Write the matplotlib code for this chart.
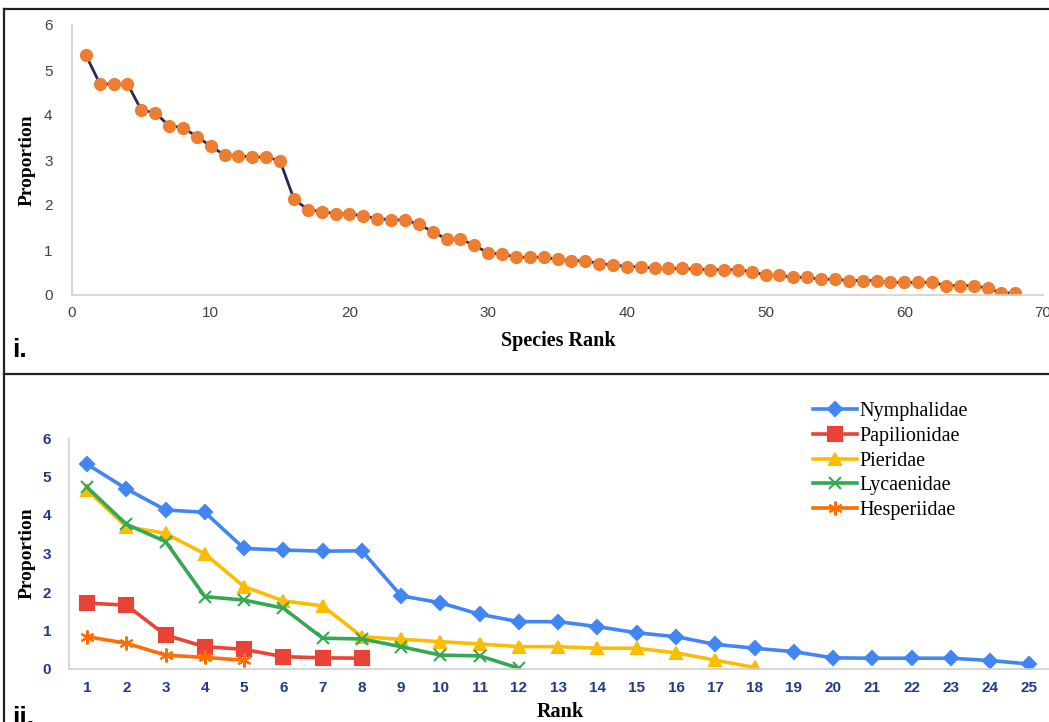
import numpy as np
import matplotlib
matplotlib.use("Agg")
import matplotlib.pyplot as plt
from matplotlib.lines import Line2D

# panel i: proportion of every species, by rank
species_prop = [5.33, 4.70, 4.68, 4.69, 4.11, 4.05, 3.76, 3.72, 3.52, 3.31,
                3.11, 3.10, 3.06, 3.07, 2.98, 2.13, 1.90, 1.85, 1.81, 1.81,
                1.75, 1.70, 1.67, 1.67, 1.57, 1.41, 1.24, 1.24, 1.11, 0.93,
                0.91, 0.84, 0.84, 0.84, 0.79, 0.76, 0.76, 0.70, 0.67, 0.63,
                0.63, 0.59, 0.59, 0.59, 0.57, 0.56, 0.56, 0.56, 0.52, 0.44,
                0.44, 0.39, 0.39, 0.35, 0.35, 0.32, 0.32, 0.32, 0.28, 0.28,
                0.28, 0.28, 0.21, 0.21, 0.21, 0.15, 0.05, 0.04]
species_rank = np.arange(1, len(species_prop) + 1)

# panel ii: proportion by rank within each family
families = ["Nymphalidae", "Papilionidae", "Pieridae", "Lycaenidae", "Hesperiidae"]
nymphalidae = [5.32, 4.68, 4.13, 4.07, 3.13, 3.09, 3.06, 3.07, 1.90, 1.72,
               1.42, 1.23, 1.23, 1.10, 0.94, 0.84, 0.64, 0.54, 0.45, 0.29,
               0.28, 0.28, 0.28, 0.22, 0.13]
papilionidae = [1.71, 1.66, 0.88, 0.58, 0.51, 0.32, 0.29, 0.28]
pieridae = [4.65, 3.70, 3.52, 2.99, 2.14, 1.77, 1.64, 0.84, 0.77, 0.71,
            0.65, 0.58, 0.58, 0.54, 0.54, 0.42, 0.23, 0.04]
lycaenidae = [4.72, 3.76, 3.31, 1.88, 1.79, 1.58, 0.80, 0.78, 0.58, 0.36,
              0.34, 0.02]
hesperiidae = [0.84, 0.67, 0.36, 0.30, 0.23]
family_values = [nymphalidae, papilionidae, pieridae, lycaenidae, hesperiidae]

W, H = 1049, 722
fig = plt.figure(figsize=(W / 100, H / 100), dpi=100)

serif = ["Liberation Serif", "DejaVu Serif"]
narrow = ["Liberation Sans Narrow", "Liberation Sans", "DejaVu Sans"]


def fx(px):
    return px / W


def fy(py):
    return 1 - py / H


# frame lines of the figure
for xs, ys in [((4, 4), (9, H)), ((4, W), (9, 9)), ((4, W), (374, 374))]:
    fig.add_artist(Line2D([fx(x) for x in xs], [fy(y) for y in ys],
                          color="#222222", lw=1.6))

# ---- panel i ----
ax1 = fig.add_axes([fx(72), fy(295), fx(1043) - fx(72), fy(25) - fy(295)])
ax1.plot(species_rank, species_prop, color="#1f2a55", lw=2, marker="o",
         markersize=8.5, markerfacecolor="#ed7d31", markeredgecolor="#ed7d31")
ax1.set_xlim(0, 70)
ax1.set_ylim(0, 6)
ax1.set_xticks(range(0, 71, 10))
ax1.set_yticks(range(0, 7))
for s in ["top", "right"]:
    ax1.spines[s].set_visible(False)
for s in ["left", "bottom"]:
    ax1.spines[s].set_color("#d0d0d0")
    ax1.spines[s].set_linewidth(1.2)
ax1.tick_params(length=0, labelsize=11, colors="#404040")
ax1.tick_params(axis="x", pad=8)
ax1.tick_params(axis="y", pad=14)
for lab in ax1.get_xticklabels() + ax1.get_yticklabels():
    lab.set_family(narrow)

fig.text(fx(27), fy(160), "Proportion", rotation=90, ha="center", va="center",
         family=serif, fontweight="bold", fontsize=14)
fig.text(fx(558), fy(341), "Species Rank", ha="center", va="center",
         family=serif, fontweight="bold", fontsize=14.5)
fig.text(fx(12), fy(350), "i.", ha="left", va="center",
         family=narrow, fontweight="bold", fontsize=19)

# ---- panel ii ----
ax2 = fig.add_axes([fx(69.4), fy(669), fx(1049) - fx(69.4), fy(438) - fy(669)])
colors = ["#4285f4", "#ea4335", "#fbbc04", "#34a853", "#ff6d01"]
markers = ["D", "s", "^", "x", (6, 2, 0)]
sizes = [7, 10, 9, 9, 10]
for name, vals, c, m, ms in zip(families, family_values, colors, markers, sizes):
    ax2.plot(np.arange(1, len(vals) + 1), vals, color=c, lw=2.6, marker=m,
             markersize=ms, markeredgewidth=1.5, label=name)
ax2.set_xlim(0.55, 25.5)
ax2.set_ylim(0, 6)
ax2.set_xticks(range(1, 26))
ax2.set_yticks(range(0, 7))
for s in ["top", "right"]:
    ax2.spines[s].set_visible(False)
for s in ["left", "bottom"]:
    ax2.spines[s].set_color("#d0d0d0")
    ax2.spines[s].set_linewidth(1.2)
ax2.tick_params(length=0, labelsize=11, labelcolor="#1f3a8a")
ax2.tick_params(axis="x", pad=9)
ax2.tick_params(axis="y", pad=13)
for lab in ax2.get_xticklabels() + ax2.get_yticklabels():
    lab.set_fontweight("bold")
    lab.set_family(["Liberation Sans", "DejaVu Sans"])

ax_w = fx(1049) - fx(69.4)
leg = ax2.legend(loc="upper left", bbox_to_anchor=((fx(805) - fx(69.4)) / ax_w, 1.19),
                 frameon=False, prop={"family": serif, "size": 14.5},
                 handlelength=2.2, handletextpad=0.1, labelspacing=0.28,
                 borderaxespad=0)

fig.text(fx(27), fy(553), "Proportion", rotation=90, ha="center", va="center",
         family=serif, fontweight="bold", fontsize=14)
fig.text(fx(560), fy(712), "Rank", ha="center", va="center",
         family=serif, fontweight="bold", fontsize=14.5)
fig.text(fx(12), fy(718), "ii.", ha="left", va="center",
         family=narrow, fontweight="bold", fontsize=19)

fig.savefig("out.png", dpi=100)
